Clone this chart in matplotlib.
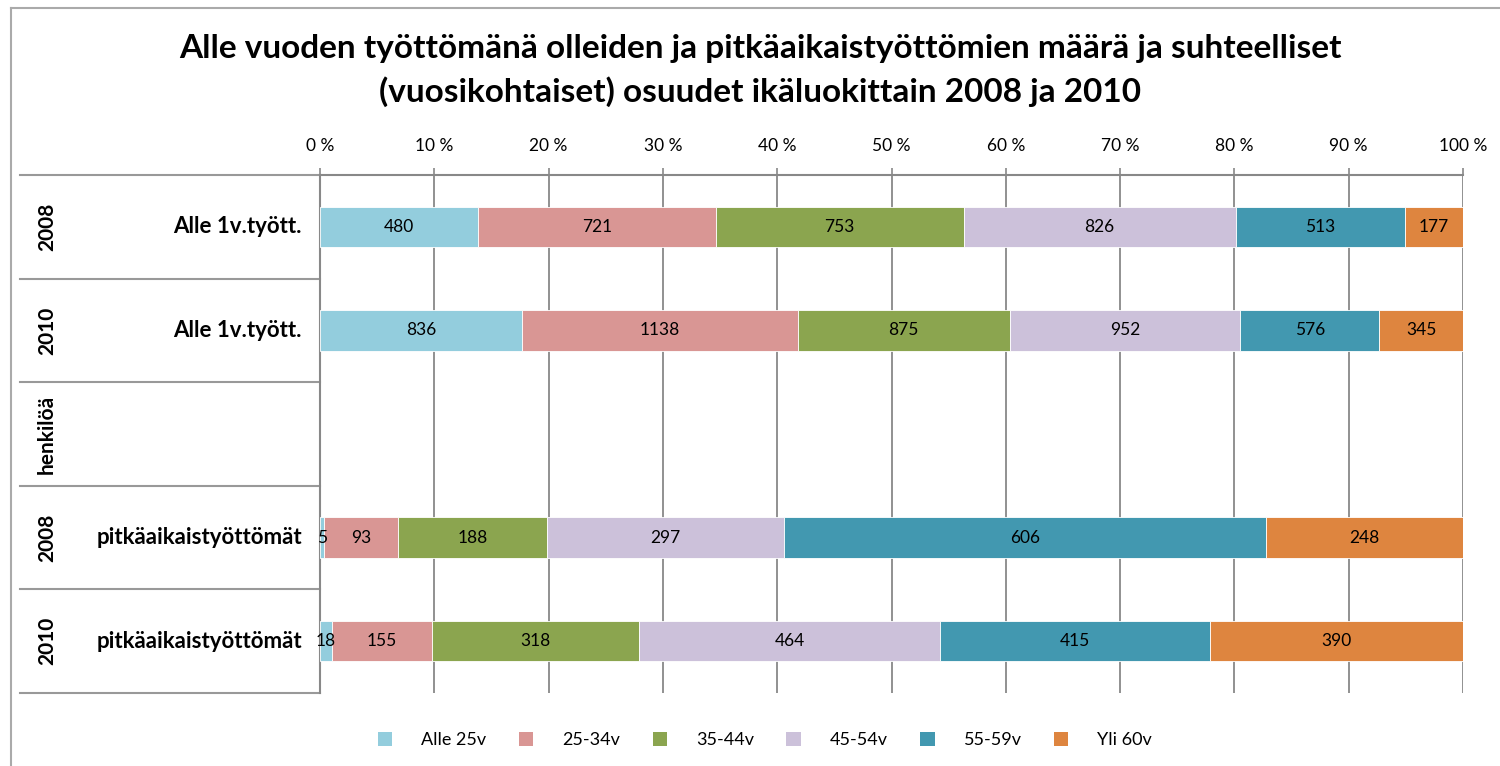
import numpy as np
import matplotlib.pyplot as plt
from matplotlib.lines import Line2D
from matplotlib.patches import Patch

plt.rcParams['font.family'] = ['Lato', 'DejaVu Sans']

# data
years = ['2008', '2010', 'henkilöä', '2008', '2010']
groups = ['Alle 1v.tyött.', 'Alle 1v.tyött.', '', 'pitkäaikaistyöttömät', 'pitkäaikaistyöttömät']
ages = ['Alle 25v', '25-34v', '35-44v', '45-54v', '55-59v', 'Yli 60v']
alle25 = [480, 836, 0, 5, 18]
v25_34 = [721, 1138, 0, 93, 155]
v35_44 = [753, 875, 0, 188, 318]
v45_54 = [826, 952, 0, 297, 464]
v55_59 = [513, 576, 0, 606, 415]
yli60 = [177, 345, 0, 248, 390]
colors = ['#93CDDD', '#D99694', '#8BA54F', '#CCC1DA', '#4298B0', '#DE853F']

series = np.array([alle25, v25_34, v35_44, v45_54, v55_59, yli60], dtype=float)
totals = series.sum(axis=0)
totals[totals == 0] = 1
shares = series / totals

fig = plt.figure(figsize=(15, 7.66), dpi=100)
ax = fig.add_axes([320 / 1500, 1 - 693 / 766, 1143 / 1500, (693 - 175) / 766])

ypos = np.arange(len(years))
left = np.zeros(len(years))
for i in range(len(ages)):
    keep = series[i] > 0
    ax.barh(ypos[keep], shares[i][keep], left=left[keep], height=0.39, color=colors[i],
            edgecolor='white', linewidth=0.6, label=ages[i], zorder=3)
    for j in range(len(years)):
        if series[i, j] > 0:
            ax.text(left[j] + shares[i, j] / 2, ypos[j], f'{int(series[i, j])}',
                    ha='center', va='center', fontsize=12.5, zorder=4)
    left += shares[i]

ax.set_xlim(0, 1)
ax.set_ylim(4.5, -0.5)
ax.set_xticks(np.arange(0, 1.01, 0.1))
ax.set_xticklabels([f'{int(round(t * 100))} %' for t in np.arange(0, 1.01, 0.1)], fontsize=12.5)
ax.xaxis.tick_top()
ax.tick_params(axis='x', direction='out', length=5, width=1.2, color='#888888', pad=10)
ax.set_yticks([])
ax.grid(axis='x', color='#888888', linewidth=1.3, zorder=0)
for s in ['right', 'bottom']:
    ax.spines[s].set_visible(False)
for s in ['top', 'left']:
    ax.spines[s].set_color('#888888')
    ax.spines[s].set_linewidth(1.5)

# left table with labels
x0 = -300 / 1143
for b in np.arange(-0.5, 4.6, 1.0):
    ax.plot([x0, 0], [b, b], color='#999999', linewidth=1.5, clip_on=False,
            transform=ax.get_yaxis_transform())
for j in range(len(years)):
    ax.text(-273 / 1143, ypos[j], years[j], rotation=90, ha='center', va='center',
            fontsize=15, fontweight='bold', transform=ax.get_yaxis_transform())
    ax.text(-18 / 1143, ypos[j], groups[j], ha='right', va='center',
            fontsize=16, fontweight='bold', transform=ax.get_yaxis_transform())

fig.text(0.507, 0.908, 'Alle vuoden työttömänä olleiden ja pitkäaikaistyöttömien määrä ja suhteelliset\n'
         '(vuosikohtaiset) osuudet ikäluokittain 2008 ja 2010',
         ha='center', va='center', fontsize=24, fontweight='bold', linespacing=1.5)

handles = [Patch(facecolor=c, label=a) for c, a in zip(colors, ages)]
fig.legend(handles=handles, loc='center', bbox_to_anchor=(0.51, 0.034), ncol=6,
           frameon=False, fontsize=13, handlelength=0.8, handleheight=0.8,
           handletextpad=1.6, columnspacing=1.8)

# outer chart frame
fig.add_artist(Line2D([11 / 1500, 11 / 1500], [0, 1 - 8 / 766], color='#AAAAAA', linewidth=1.5))
fig.add_artist(Line2D([11 / 1500, 1], [1 - 8 / 766, 1 - 8 / 766], color='#AAAAAA', linewidth=1.5))

fig.savefig('out.png', dpi=100)
